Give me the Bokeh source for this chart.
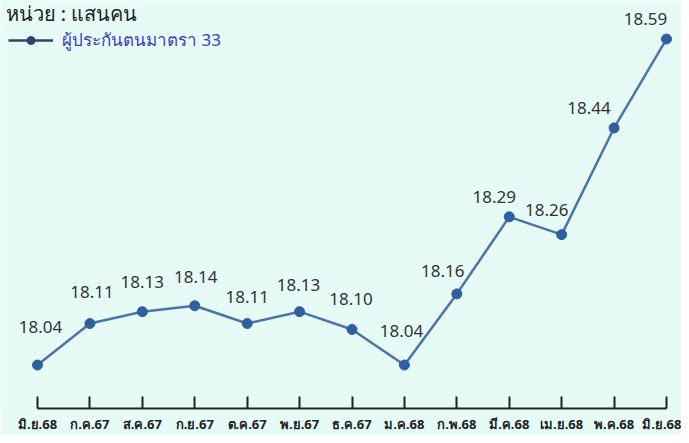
from bokeh.plotting import figure
from bokeh.models import ColumnDataSource, Legend, LegendItem, Label, FixedTicker, Range1d
from bokeh.core.properties import value
from bokeh.embed import file_html
from bokeh.resources import INLINE

months = ["มิ.ย.68", "ก.ค.67", "ส.ค.67", "ก.ย.67", "ต.ค.67", "พ.ย.67", "ธ.ค.67",
          "ม.ค.68", "ก.พ.68", "มี.ค.68", "เม.ย.68", "พ.ค.68", "มิ.ย.68"]
insured = [18.04, 18.11, 18.13, 18.14, 18.11, 18.13, 18.10,
           18.04, 18.16, 18.29, 18.26, 18.44, 18.59]
series_name = "ผู้ประกันตนมาตรา 33"
unit_text = "หน่วย : แสนคน"

# label placement offsets (style, screen px)
lab_dx = [3, 2, 0, 1, 0, -1, -1, -3, -14, -15, -15, -25, -21]
lab_dy = [-38, -32, -30, -29, -27, -27, -30, -34, -23, -20, -25, -20, -20]

idx = list(range(len(months)))
src = ColumnDataSource(dict(x=idx, y=insured,
                            lbl=["%.2f" % v for v in insured],
                            dx=lab_dx, dy=lab_dy))

W, H = 681, 435
FL, FR = 37, 666          # pixel span of the category axis
step = (FR - FL) / (len(months) - 1)
AXIS_Y = 413
PPU = 600                 # pixels per unit
y_top = 18.655
y_bot = y_top - AXIS_Y / PPU

BG = "#e6faf6"
p = figure(width=W, height=H, output_backend="svg", toolbar_location=None,
           x_range=Range1d(-FL / step, len(months) - 1 + (W - FR) / step),
           y_range=Range1d(y_bot, y_top),
           min_border_left=0, min_border_right=0, min_border_top=0,
           min_border_bottom=H - AXIS_Y)
p.background_fill_color = BG
p.border_fill_color = BG
p.outline_line_color = None
p.xgrid.visible = False
p.ygrid.visible = False
p.yaxis.visible = False

xa = p.xaxis[0]
xa.bounds = (0, len(months) - 1)
xa.ticker = FixedTicker(ticks=idx)
xa.major_label_overrides = {i: m for i, m in enumerate(months)}
xa.axis_line_color = "#222222"
xa.axis_line_width = 2
xa.major_tick_line_color = "#222222"
xa.major_tick_line_width = 2
xa.major_tick_in = 12
xa.major_tick_out = 0
xa.minor_tick_line_color = None
xa.major_label_standoff = 6
xa.major_label_text_font = "Noto Sans"
xa.major_label_text_font_size = "13px"
xa.major_label_text_font_style = "bold"
xa.major_label_text_color = "#222222"

p.line("x", "y", source=src, line_color="#4a74aa", line_width=2.5)
p.scatter("x", "y", source=src, size=10, fill_color="#2f5f9e", line_color="#2f5f9e")
p.text("x", "y", text="lbl", source=src, x_offset="dx", y_offset="dy",
       text_font=value("Noto Sans"), text_font_size="17px", text_color="#333333",
       text_align="center", text_baseline="middle")

# legend proxies (one NaN point so legend visuals exist, nothing drawn on plot)
nan = float("nan")
lg_line = p.line([nan], [nan], line_color="#2c4470", line_width=2.5)
lg_pt = p.scatter([nan], [nan], size=10, fill_color="#2c4470", line_color="#2c4470")
legend = Legend(items=[LegendItem(label=series_name, renderers=[lg_line, lg_pt])],
                location=(8, AXIS_Y - 58), glyph_width=45, glyph_height=20,
                label_text_font="Noto Sans", label_text_font_size="17px",
                label_text_color="#3b3bbf", label_standoff=9,
                padding=0, margin=0, border_line_color=None,
                background_fill_alpha=0)
p.add_layout(legend, "center")

p.add_layout(Label(x=(5 - FL) / step, y=y_top - 13 / PPU, text=unit_text,
                   text_font="Noto Sans", text_font_size="20px", text_color="#222222",
                   text_baseline="alphabetic"))

open("out.html", "w").write(file_html(p, INLINE))
